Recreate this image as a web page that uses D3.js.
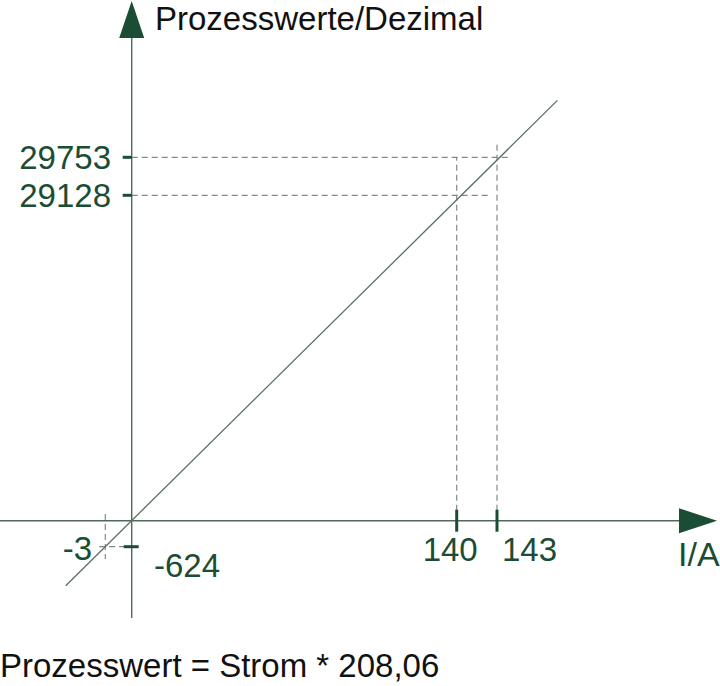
<!DOCTYPE html>
<html>
<head>
<meta charset="utf-8">
<script src="https://cdn.jsdelivr.net/npm/d3@7"></script>
<style>
  body { margin: 0; background: #fff; }
  svg { display: block; font-family: "Liberation Sans", Arial, sans-serif; }
</style>
</head>
<body>
<svg id="chart"></svg>
<script>
const width = 720,
      height = 686;

// values
const currents = [-3, 140, 143];            // I/A
const processValues = [-624, 29128, 29753]; // Prozesswerte
const factor = 208.06;
const lineExtent = [-7.5, 147.5];           // drawn range of the characteristic

// dashed guide lines (data units)
const hGuides = [
  { v: 29753, i0: 0, i1: 143.9 },
  { v: 29128, i0: 0, i1: 142.5 },
  { v: -624, i0: -3.7, i1: 0 }
];
const vGuides = [
  { i: 140, v0: 0, v1: 29753 },
  { i: 143, v0: 0, v1: 30000 },
  { i: -3, v0: 600, v1: -920 }
];

const green = "#1b4d34",
      axisCol = "#4e6a5b",
      dashCol = "#7f8c85";

const svg = d3.select("#chart")
  .attr("width", width)
  .attr("height", height);

// schematic, piecewise axes
const x = d3.scaleLinear()
  .domain([-3, 0, 140, 143])
  .range([105.3, 131.7, 456.7, 497]);

const y = d3.scaleLinear()
  .domain([-624, 0, 29128, 29753])
  .range([546.7, 520.7, 195.3, 157.3]);

const x0 = x(0), y0 = y(0);

// dashed guides
svg.append("g")
  .attr("stroke", dashCol)
  .attr("stroke-width", 1.2)
  .attr("stroke-dasharray", "6,4")
  .selectAll("line.h")
  .data(hGuides)
  .join("line")
  .attr("x1", d => x(d.i0))
  .attr("x2", d => x(d.i1))
  .attr("y1", d => y(d.v))
  .attr("y2", d => y(d.v));

svg.append("g")
  .attr("stroke", dashCol)
  .attr("stroke-width", 1.2)
  .attr("stroke-dasharray", "6,4")
  .selectAll("line.v")
  .data(vGuides)
  .join("line")
  .attr("x1", d => x(d.i))
  .attr("x2", d => x(d.i))
  .attr("y1", d => y(d.v0))
  .attr("y2", d => y(d.v1));

// axes
svg.append("line")
  .attr("x1", 0).attr("x2", 680)
  .attr("y1", y0).attr("y2", y0)
  .attr("stroke", axisCol).attr("stroke-width", 1.4);

svg.append("line")
  .attr("x1", x0).attr("x2", x0)
  .attr("y1", 37).attr("y2", 618)
  .attr("stroke", axisCol).attr("stroke-width", 1.4);

// arrow heads
svg.append("path")
  .attr("d", `M${x0},1 L${x0 + 12.5},38 L${x0 - 12.5},38 Z`)
  .attr("fill", green);

svg.append("path")
  .attr("d", `M717,${y0} L679,${y0 - 12.5} L679,${y0 + 12.5} Z`)
  .attr("fill", green);

// characteristic line
const line = d3.line()
  .x(d => x(d))
  .y(d => y(d * factor));

svg.append("path")
  .datum(lineExtent)
  .attr("d", line)
  .attr("fill", "none")
  .attr("stroke", "#5b6e63")
  .attr("stroke-width", 1.3);

// ticks
svg.append("g")
  .selectAll("line")
  .data(currents.filter(c => c > 0))
  .join("line")
  .attr("x1", d => x(d)).attr("x2", d => x(d))
  .attr("y1", y0 - 11).attr("y2", y0 + 11)
  .attr("stroke", green).attr("stroke-width", 3);

svg.append("g")
  .selectAll("line")
  .data(processValues)
  .join("line")
  .attr("x1", d => d < 0 ? x0 - 8 : x0 - 9)
  .attr("x2", d => d < 0 ? x0 + 7 : x0)
  .attr("y1", d => y(d)).attr("y2", d => y(d))
  .attr("stroke", green).attr("stroke-width", 3);

// tick labels
const labelFont = 33;

svg.append("g")
  .attr("fill", green)
  .attr("font-size", labelFont)
  .selectAll("text")
  .data(processValues.filter(v => v > 0))
  .join("text")
  .attr("x", 111)
  .attr("y", d => y(d) + 11.5)
  .attr("text-anchor", "end")
  .text(d => d);

svg.append("text")
  .attr("x", 154).attr("y", 577)
  .attr("fill", green).attr("font-size", labelFont)
  .text(processValues[0]);

svg.append("text")
  .attr("x", 92).attr("y", 560)
  .attr("text-anchor", "end")
  .attr("fill", green).attr("font-size", labelFont)
  .text(currents[0]);

svg.append("text")
  .attr("x", x(currents[1]) + 21).attr("y", 561)
  .attr("text-anchor", "end")
  .attr("fill", green).attr("font-size", labelFont)
  .text(currents[1]);

svg.append("text")
  .attr("x", x(currents[2]) + 5).attr("y", 561)
  .attr("fill", green).attr("font-size", labelFont)
  .text(currents[2]);

// axis titles
svg.append("text")
  .attr("x", 678).attr("y", 566)
  .attr("fill", green).attr("font-size", 34)
  .text("I/A");

svg.append("text")
  .attr("x", 155).attr("y", 29.5)
  .attr("fill", "#111").attr("font-size", 33)
  .text("Prozesswerte/Dezimal");

// formula
svg.append("text")
  .attr("x", 0).attr("y", 677)
  .attr("fill", "#111").attr("font-size", 33)
  .text("Prozesswert = Strom * " + d3.format(".2f")(factor).replace(".", ","));
</script>
</body>
</html>
